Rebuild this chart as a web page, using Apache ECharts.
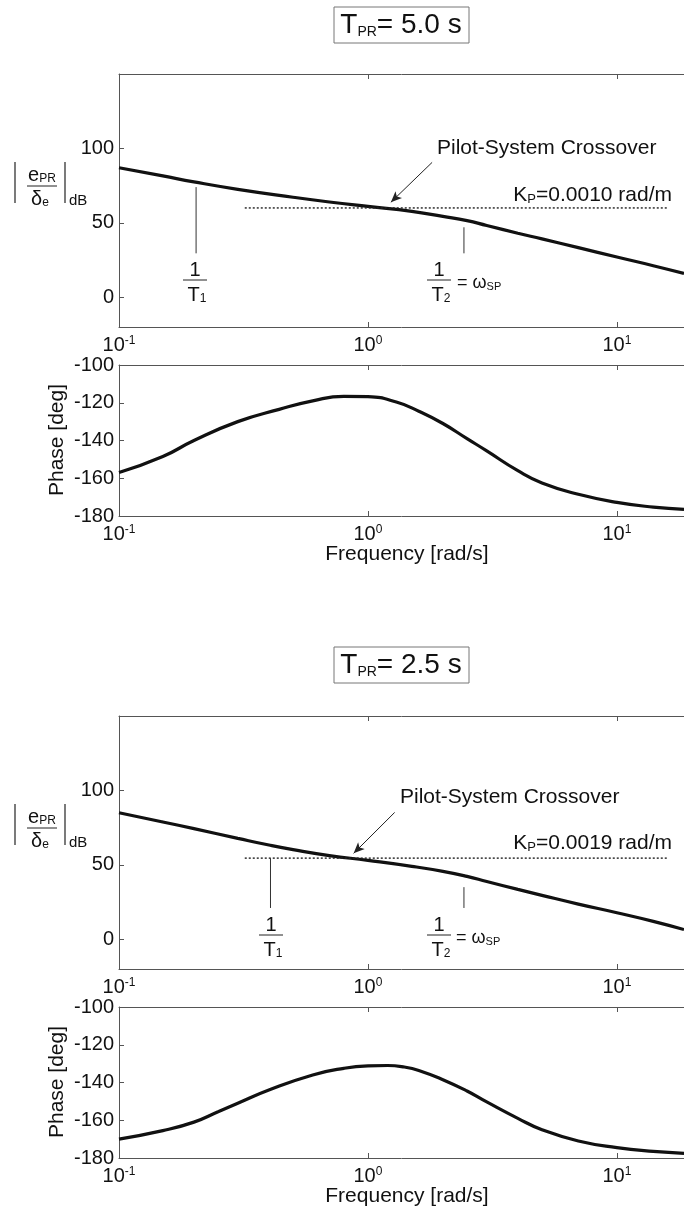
<!DOCTYPE html>
<html>
<head>
<meta charset="utf-8">
<script src="https://cdn.jsdelivr.net/npm/echarts@6/dist/echarts.min.js"></script>
<style>
  html, body { margin: 0; padding: 0; background: #fff; }
  #chart { width: 684px; height: 1209px; }
</style>
</head>
<body>
<div id="chart"></div>
<script>
const freqMagA = [0.1, 0.15, 0.2, 0.3, 0.5, 0.7, 1, 1.5, 2, 2.5, 3, 4, 5, 7, 10, 14, 18.6]
const magA = [87, 81.5, 77.5, 72.5, 67.2, 64, 61, 57.7, 54.3, 51.5, 48.2, 43, 39.2, 33.3, 27, 21.2, 16]

const freqPhaseA = [0.1, 0.15, 0.2, 0.3, 0.44, 0.6, 0.8, 1, 1.3, 1.6, 2, 2.5, 3, 4, 5, 7, 10, 14, 18.6]
const phaseA = [-157, -148.5, -140, -130, -123.5, -119, -116.6, -116.8, -119.6, -124.5, -131, -139, -145.5, -156, -162.5, -168.5, -172.8, -175.3, -176.5]

const freqMagB = [0.1, 0.15, 0.2, 0.3, 0.4, 0.5, 0.7, 1, 1.5, 2, 2.5, 3, 4, 5, 7, 10, 14, 18.6]
const magB = [85, 78.8, 74.3, 67.8, 63.3, 60.2, 56.2, 53, 49, 45.6, 42.2, 38.8, 33.5, 29.5, 23.6, 17.8, 12, 6.5]

const freqPhaseB = [0.1, 0.15, 0.2, 0.25, 0.3, 0.4, 0.6, 0.8, 1, 1.2, 1.4, 1.6, 2, 2.5, 3, 4, 5, 7, 10, 14, 18.6]
const phaseB = [-170, -165.5, -161, -155.5, -151, -144, -136, -132.5, -131.2, -131, -131.8, -133.6, -138.5, -144.5, -150.3, -159, -165, -171, -174.5, -176.5, -177.5]

// pilot gain level (dotted line) and its frequency span
const kpFreq = [0.32, 16]
const kpLevelA = 60
const kpLevelB = 54.5

// break frequencies 1/T1, 1/T2 and the dB span of their marker lines
const breakA = [{ f: 0.204, from: 74, to: 29.5 }, { f: 2.43, from: 47, to: 29.5 }]
const breakB = [{ f: 0.406, from: 54.5, to: 21 }, { f: 2.43, from: 35, to: 21 }]

// crossover arrows: [start, tip] as [freq, dB]
const arrowA = [[1.81, 90.6], [1.236, 63.8]]
const arrowB = [[1.28, 85.2], [0.876, 57.7]]

const xTicks = [0.1, 1, 10]
const magTicks = [0, 50, 100]

const FONT = 'Liberation Sans, Arial, Helvetica, sans-serif'
const INK = '#111'
const AXIS = '#555'

const zip = (xs, ys) => xs.map((x, i) => [x, ys[i]])

function xAxisFor(gi, pos) {
  return {
    type: 'log', logBase: 10, gridIndex: gi, min: 0.1, max: 18.6, position: pos,
    axisLine: { show: true, onZero: false, lineStyle: { color: AXIS, width: 1 } },
    axisTick: { show: true, inside: true, length: 5, customValues: xTicks, lineStyle: { color: AXIS } },
    axisLabel: {
      show: pos === 'bottom', customValues: xTicks, margin: 8,
      formatter: v => '{b|10}{s|' + Math.round(Math.log10(v)) + '}',
      rich: {
        b: { fontFamily: FONT, fontSize: 20, color: INK },
        s: { fontFamily: FONT, fontSize: 12, color: INK, verticalAlign: 'top' }
      }
    },
    splitLine: { show: false },
    minorTick: { show: false }
  }
}

function magAxis(gi) {
  return {
    type: 'value', gridIndex: gi, min: -20, max: 150,
    axisLine: { show: true, onZero: false, lineStyle: { color: AXIS } },
    axisTick: { show: true, inside: true, length: 5, customValues: magTicks, lineStyle: { color: AXIS } },
    axisLabel: { customValues: magTicks, fontFamily: FONT, fontSize: 20, color: INK, margin: 5 },
    splitLine: { show: false }
  }
}

function phaseAxis(gi) {
  return {
    type: 'value', gridIndex: gi, min: -180, max: -100, interval: 20,
    axisLine: { show: true, onZero: false, lineStyle: { color: AXIS } },
    axisTick: { show: true, inside: true, length: 5, lineStyle: { color: AXIS } },
    axisLabel: { fontFamily: FONT, fontSize: 20, color: INK, margin: 5 },
    splitLine: { show: false }
  }
}

function curve(gi, data) {
  return {
    type: 'line', xAxisIndex: gi * 2, yAxisIndex: gi, data, smooth: 0.5,
    symbol: 'none', silent: true,
    lineStyle: { color: INK, width: 3.2 }
  }
}

function kpLine(gi, level, arrow) {
  return {
    type: 'line', xAxisIndex: gi * 2, yAxisIndex: gi,
    data: kpFreq.map(f => [f, level]), symbol: 'none', silent: true,
    lineStyle: { color: '#222', width: 1.4, type: [2, 2] },
    markLine: {
      silent: true, symbol: ['none', 'arrow'], symbolSize: [7, 11],
      label: { show: false },
      lineStyle: { color: '#222', width: 1, type: 'solid' },
      data: [[{ coord: arrow[0] }, { coord: arrow[1] }]]
    }
  }
}

function breakLines(gi, marks) {
  return marks.map(m => ({
    type: 'line', xAxisIndex: gi * 2, yAxisIndex: gi,
    data: [[m.f, m.from], [m.f, m.to]], symbol: 'none', silent: true,
    lineStyle: { color: '#333', width: 1 }
  }))
}

// ---- text annotations ----
function txt(x, y, text, size, align, extra) {
  return Object.assign({
    type: 'text', x, y, silent: true,
    style: { text, fontFamily: FONT, fontSize: size, fill: INK, align: align || 'center', verticalAlign: 'middle' }
  }, extra || {})
}
function hline(x1, x2, y, w) {
  return { type: 'line', silent: true, shape: { x1, y1: y, x2, y2: y }, style: { stroke: '#222', lineWidth: w || 1 } }
}
function vline(x, y1, y2, w) {
  return { type: 'line', silent: true, shape: { x1: x, y1, x2: x, y2 }, style: { stroke: '#222', lineWidth: w || 1 } }
}

const subRich = size => ({
  m: { fontFamily: FONT, fontSize: size, fill: INK },
  s: { fontFamily: FONT, fontSize: Math.round(size * 0.6), fill: INK, verticalAlign: 'bottom' }
})

function richTxt(x, y, text, size, align) {
  return {
    type: 'text', x, y, silent: true,
    style: { text, rich: subRich(size), align: align || 'center', verticalAlign: 'middle' }
  }
}

function titleBox(dy, label) {
  return [
    { type: 'rect', silent: true, shape: { x: 334, y: 7 + dy, width: 135, height: 36 }, style: { fill: '#fff', stroke: '#777', lineWidth: 1 } },
    {
      type: 'text', x: 401, y: 25 + dy, silent: true,
      style: {
        text: '{m|T}{s|PR}{m|= ' + label + '}', align: 'center', verticalAlign: 'middle',
        rich: {
          m: { fontFamily: FONT, fontSize: 28, fill: INK },
          s: { fontFamily: FONT, fontSize: 14, fill: INK, verticalAlign: 'bottom' }
        }
      }
    }
  ]
}

function magLabel(dy) {
  return [
    vline(15, 162 + dy, 203 + dy, 1.2),
    richTxt(42, 175 + dy, '{m|e}{s|PR}', 20),
    hline(27, 57, 186 + dy, 1),
    richTxt(40, 199 + dy, '{m|δ}{s|e}', 20),
    vline(65, 162 + dy, 203 + dy, 1.2),
    txt(69, 201 + dy, 'dB', 15, 'left')
  ]
}

function invT(cx, y, n, omegaX) {
  const out = [
    txt(cx, y, '1', 20),
    hline(cx - 12, cx + 12, y + 10, 1),
    richTxt(cx + 2, y + 25, '{m|T}{s|' + n + '}', 20)
  ]
  if (omegaX) out.push(richTxt(omegaX, y + 13, '{m|= ω}{s|SP}', 18, 'left'))
  return out
}

function phaseLabels(dy) {
  return [
    txt(57, 440 + dy, 'Phase [deg]', 21, 'center', { rotation: Math.PI / 2 }),
    txt(407, 554 + dy, 'Frequency [rad/s]', 21)
  ]
}

const D = 642 // vertical offset of the second figure

const graphics = [].concat(
  titleBox(0, '5.0 s'),
  magLabel(0),
  [txt(437, 148, 'Pilot-System Crossover', 21, 'left'),
   richTxt(672, 195, '{m|K}{s|P}{m|=0.0010 rad/m}', 21, 'right')],
  invT(195, 270, 1),
  invT(439, 270, 2, 457),
  phaseLabels(0),
  titleBox(640, '2.5 s'),
  magLabel(D),
  [txt(400, 797, 'Pilot-System Crossover', 21, 'left'),
   richTxt(672, 843, '{m|K}{s|P}{m|=0.0019 rad/m}', 21, 'right')],
  invT(271, 925, 1),
  invT(439, 925, 2, 456),
  phaseLabels(D)
)

const chart = echarts.init(document.getElementById('chart'))

chart.setOption({
  animation: false,
  backgroundColor: '#fff',
  grid: [
    { left: 119, right: 0, top: 74, height: 253, outerBoundsMode: 'none' },
    { left: 119, right: 0, top: 365, height: 151, outerBoundsMode: 'none' },
    { left: 119, right: 0, top: 74 + D, height: 253, outerBoundsMode: 'none' },
    { left: 119, right: 0, top: 365 + D, height: 151, outerBoundsMode: 'none' }
  ],
  xAxis: [
    xAxisFor(0, 'bottom'), xAxisFor(0, 'top'),
    xAxisFor(1, 'bottom'), xAxisFor(1, 'top'),
    xAxisFor(2, 'bottom'), xAxisFor(2, 'top'),
    xAxisFor(3, 'bottom'), xAxisFor(3, 'top')
  ],
  yAxis: [magAxis(0), phaseAxis(1), magAxis(2), phaseAxis(3)],
  series: [].concat(
    [curve(0, zip(freqMagA, magA)), kpLine(0, kpLevelA, arrowA)],
    breakLines(0, breakA),
    [curve(1, zip(freqPhaseA, phaseA))],
    [curve(2, zip(freqMagB, magB)), kpLine(2, kpLevelB, arrowB)],
    breakLines(2, breakB),
    [curve(3, zip(freqPhaseB, phaseB))]
  ),
  graphic: graphics
})
</script>
</body>
</html>
